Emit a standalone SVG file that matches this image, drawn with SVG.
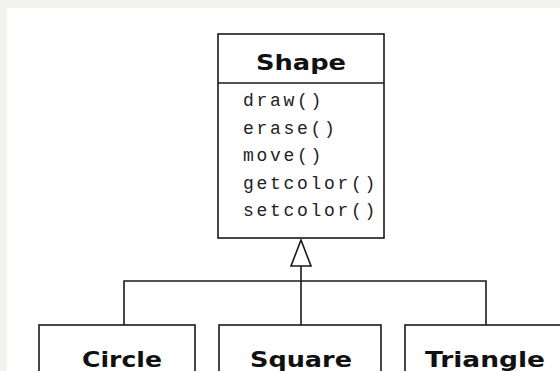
<svg xmlns="http://www.w3.org/2000/svg" width="560" height="371" viewBox="0 0 560 371">
<style>
.box{fill:none;stroke:#1a1a1a;stroke-width:1.6}
.ln{fill:none;stroke:#1a1a1a;stroke-width:1.6}
.title{font-family:"DejaVu Sans","Liberation Sans",sans-serif;font-weight:bold;font-size:21px;fill:#111;text-anchor:middle}
.meth{font-family:"Liberation Mono","DejaVu Sans Mono",monospace;font-size:18px;letter-spacing:2.7px;fill:#222}
</style>
<rect x="0" y="0" width="560" height="371" fill="#ffffff"/>
<rect x="0" y="0" width="560" height="8" fill="#f2f2ee"/>
<rect x="0" y="0" width="7" height="371" fill="#f2f2ee"/>
<g id="Shape">
<rect class="box" x="218" y="34" width="166" height="204" fill="#fff"/>
<line class="ln" x1="218" y1="83" x2="384" y2="83"/>
<text class="title" x="301" y="70" textLength="90" lengthAdjust="spacingAndGlyphs">Shape</text>
<text class="meth" x="243" y="106">draw()</text>
<text class="meth" x="243" y="134">erase()</text>
<text class="meth" x="243" y="161">move()</text>
<text class="meth" x="243" y="189">getcolor()</text>
<text class="meth" x="243" y="216">setcolor()</text>
</g>
<g id="connectors">
<polyline class="ln" points="124,325 124,281 486,281 486,325"/>
<line class="ln" x1="301" y1="266" x2="301" y2="325"/>
<polygon class="ln" points="301,240 311,266 291,266" fill="#fff"/>
</g>
<g id="Circle">
<rect class="box" x="39" y="325" width="156" height="60"/>
<text class="title" x="122" y="367" textLength="80" lengthAdjust="spacingAndGlyphs">Circle</text>
</g>
<g id="Square">
<rect class="box" x="219" y="325" width="162" height="60"/>
<text class="title" x="301" y="367" textLength="102" lengthAdjust="spacingAndGlyphs">Square</text>
</g>
<g id="Triangle">
<rect class="box" x="405" y="325" width="170" height="60"/>
<text class="title" x="485" y="367" textLength="120" lengthAdjust="spacingAndGlyphs">Triangle</text>
</g>
</svg>
